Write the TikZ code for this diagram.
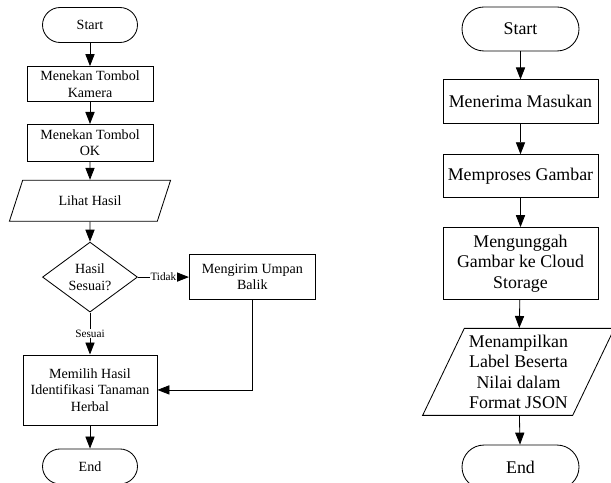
\documentclass[tikz,border=0pt]{standalone}
\usepackage{fontspec}
\setmainfont{Liberation Serif}
\usepackage{tikz}
\usetikzlibrary{
    arrows.meta,
    positioning,
    shapes.geometric
}

\begin{document}
\begin{tikzpicture}[
        node distance=0.58cm,
        every node/.style={line width=0.6pt},
        terminal/.style={
            rectangle,
            rounded corners=0.44cm,
            draw,
            align=center,
            minimum width=2.375cm,
            minimum height=0.875cm
        },
        process/.style={
            rectangle,
            draw,
            align=center,
            inner sep=1pt,
            minimum width=3.15cm,
            minimum height=0.875cm
        },
        io/.style={
            trapezium,
            trapezium left angle=63,
            trapezium right angle=117,
            trapezium stretches=true,
            draw,
            align=center,
            inner sep=1pt
        },
        decision/.style={
            diamond,
            draw,
            align=center,
            inner sep=0pt,
            minimum width=2.375cm,
            minimum height=1.75cm
        },
        line/.style={
            -{Triangle[length=3mm,width=2.3mm]},
            line width=0.6pt
        },
        tag/.style={
            fill=white,
            inner sep=0.5pt,
            font=\fontsize{8}{9}\selectfont
        },
        small/.style={font=\fontsize{10}{11.8}\selectfont},
        large/.style={font=\fontsize{12.7}{14.6}\selectfont}
    ]

    \useasboundingbox (0,0) rectangle (15.275,-12.075);

    % left flowchart
    \node[terminal, small] (start) at (2.25,-0.625) {Start};

    \node[process, small, below=of start] (kamera)
        {Menekan Tombol\\Kamera};

    \node[process, small, below=0.55cm of kamera, minimum height=0.925cm] (ok)
        {Menekan Tombol\\OK};

    \node[io, small, below=0.45cm of ok,
        minimum width=4.05cm, minimum height=1.025cm] (lihat)
        {Lihat Hasil};

    \node[decision, small, below=0.5cm of lihat] (sesuai)
        {Hasil\\Sesuai?};

    \node[process, small, right=1.275cm of sesuai, minimum height=1.125cm] (umpan)
        {Mengirim Umpan\\Balik};

    \node[process, small, below=1.05cm of sesuai,
        minimum width=3.35cm, minimum height=1.75cm] (memilih)
        {Memilih Hasil\\Identifikasi Tanaman\\Herbal};

    \node[terminal, small, below=of memilih] (end)
        {End};

    \draw[line] (start) -- (kamera);
    \draw[line] (kamera) -- (ok);
    \draw[line] (ok) -- (lihat);
    \draw[line] (lihat) -- (sesuai);
    \draw[line] (sesuai) -- node[tag] {Tidak} (umpan);
    \draw[line] (sesuai) -- node[tag] {Sesuai} (memilih);
    \draw[line] (umpan.south) |- (memilih.east);
    \draw[line] (memilih) -- (end);

    % right flowchart
    \node[terminal, large, minimum width=2.925cm, minimum height=1.1cm,
        rounded corners=0.55cm] (mulai) at (13.0125,-0.725) {Start};

    \node[process, large, below=0.7cm of mulai,
        minimum width=3.875cm, minimum height=1.1cm] (terima)
        {Menerima Masukan};

    \node[process, large, below=0.75cm of terima,
        minimum width=3.875cm, minimum height=1.075cm] (proses)
        {Memproses Gambar};

    \node[process, large, below=0.725cm of proses,
        minimum width=3.875cm, minimum height=1.8cm] (unggah)
        {Mengunggah\\Gambar ke Cloud\\Storage};

    \node[io, large, below=0.7cm of unggah, xshift=-0.05cm,
        minimum width=4.8cm, minimum height=2.175cm] (tampil)
        {Menampilkan\\Label Beserta\\Nilai dalam\\Format JSON};

    \node[terminal, large, below=0.72cm of tampil, xshift=0.05cm,
        minimum width=2.925cm, minimum height=1.1cm,
        rounded corners=0.55cm] (selesai)
        {End};

    \draw[line] (mulai) -- (terima);
    \draw[line] (terima) -- (proses);
    \draw[line] (proses) -- (unggah);
    \draw[line] (unggah) -- (tampil);
    \draw[line] (tampil) -- (selesai);

\end{tikzpicture}
\end{document}
